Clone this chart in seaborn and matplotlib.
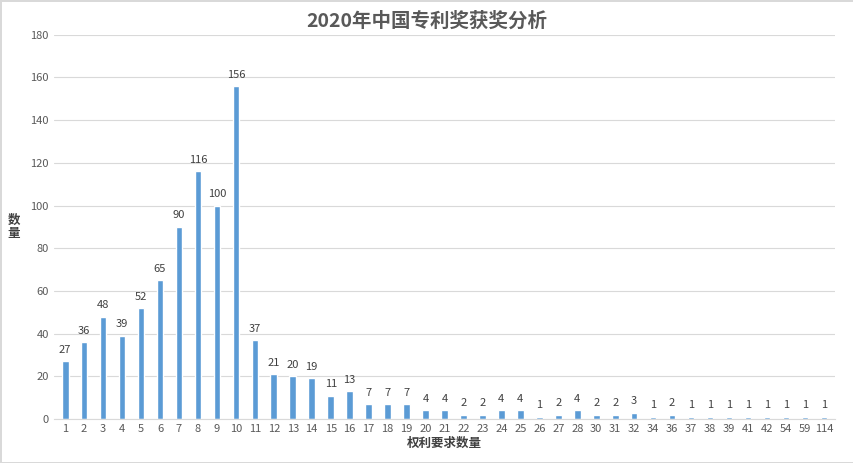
import matplotlib
matplotlib.use("Agg")
import matplotlib.pyplot as plt
import seaborn as sns
import pandas as pd

categories = [str(i) for i in range(1, 29)] + ["30","31","32","34","36","37","38","39","41","42","54","59","114"]
values = [27,36,48,39,52,65,90,116,100,156,37,21,20,19,11,13,7,7,7,4,4,2,2,4,4,1,2,4,2,2,3,1,2,1,1,1,1,1,1,1,1]

sns.set_style("white")
plt.rcParams['font.family'] = ['Noto Sans CJK SC', 'DejaVu Sans']

df = pd.DataFrame({"cat": categories, "val": values})
fig = plt.figure(figsize=(8.54, 4.63), dpi=100)
ax = fig.add_axes([0.063, 0.095, 0.915, 0.83])
sns.barplot(data=df, x="cat", y="val", color="#5B9BD5", width=0.35, saturation=1, ax=ax)
for i, v in enumerate(values):
    ax.text(i, v + 3, str(v), ha="center", va="bottom", fontsize=8, color="#404040")
ax.set_ylim(0, 180)
ax.set_yticks(range(0, 181, 20))
ax.set_xlim(-0.6, len(values) - 0.4)
ax.yaxis.grid(True, color="#D9D9D9", linewidth=0.8)
ax.set_axisbelow(True)
for s in ["top", "right", "left"]:
    ax.spines[s].set_visible(False)
ax.spines["bottom"].set_color("#D9D9D9")
ax.tick_params(axis="both", length=0, labelsize=8, colors="#595959")
ax.set_xlabel("权利要求数量", fontsize=9, color="#404040", labelpad=2, fontweight="bold")
ax.set_ylabel("数\n量", fontsize=9, color="#404040", fontweight="bold", rotation=0, va="center", labelpad=12, linespacing=1.0)
fig.suptitle("2020年中国专利奖获奖分析", fontsize=14, fontweight="bold", color="#595959", y=0.975)
fig.patch.set_edgecolor("#D9D9D9")
fig.patch.set_linewidth(1)
fig.savefig("out.png", dpi=100, edgecolor=fig.get_edgecolor())
